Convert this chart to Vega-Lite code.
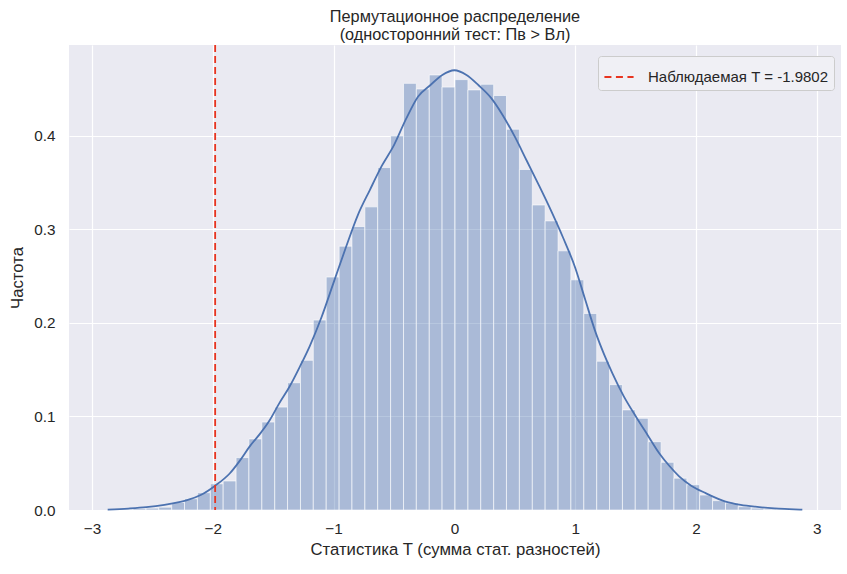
{
  "$schema": "https://vega.github.io/schema/vega-lite/v6.json",
  "width": 772,
  "height": 465,
  "autosize": {"type": "none"},
  "padding": {"left": 69, "top": 45, "right": 6, "bottom": 64},
  "background": "white",
  "config": {
    "font": "Liberation Sans",
    "view": {"fill": "#EAEAF2", "stroke": null},
    "axis": {
      "gridColor": "white", "gridWidth": 1.2, "gridOpacity": 1,
      "domain": false, "ticks": false,
      "labelFont": "Liberation Sans", "labelFontSize": 15.3, "labelColor": "#262626",
      "titleFont": "Liberation Sans", "titleFontSize": 16.7, "titleFontWeight": "normal", "titleColor": "#262626"
    },
    "legend": {
      "labelFont": "Liberation Sans", "labelFontSize": 15, "labelColor": "#262626", "labelLimit": 0
    }
  },
  "title": {
    "text": ["Пермутационное распределение", " (односторонний тест: Пв > Вл)"],
    "font": "Liberation Sans", "fontSize": 16.3, "fontWeight": "normal", "color": "#262626",
    "anchor": "middle", "lineHeight": 18, "offset": 1
  },
  "datasets": {
    "bars": [
      {"b0": -2.873, "b1": -2.767, "h": 0.0005},
      {"b0": -2.767, "b1": -2.660, "h": 0.0008},
      {"b0": -2.660, "b1": -2.553, "h": 0.0015},
      {"b0": -2.553, "b1": -2.447, "h": 0.002},
      {"b0": -2.447, "b1": -2.340, "h": 0.003},
      {"b0": -2.340, "b1": -2.234, "h": 0.008},
      {"b0": -2.234, "b1": -2.127, "h": 0.012},
      {"b0": -2.127, "b1": -2.020, "h": 0.0185},
      {"b0": -2.020, "b1": -1.914, "h": 0.028},
      {"b0": -1.914, "b1": -1.807, "h": 0.031},
      {"b0": -1.807, "b1": -1.701, "h": 0.056},
      {"b0": -1.701, "b1": -1.594, "h": 0.076},
      {"b0": -1.594, "b1": -1.487, "h": 0.094},
      {"b0": -1.487, "b1": -1.381, "h": 0.110},
      {"b0": -1.381, "b1": -1.274, "h": 0.136},
      {"b0": -1.274, "b1": -1.168, "h": 0.160},
      {"b0": -1.168, "b1": -1.061, "h": 0.203},
      {"b0": -1.061, "b1": -0.954, "h": 0.249},
      {"b0": -0.954, "b1": -0.848, "h": 0.282},
      {"b0": -0.848, "b1": -0.741, "h": 0.303},
      {"b0": -0.741, "b1": -0.635, "h": 0.324},
      {"b0": -0.635, "b1": -0.528, "h": 0.366},
      {"b0": -0.528, "b1": -0.421, "h": 0.400},
      {"b0": -0.421, "b1": -0.315, "h": 0.456},
      {"b0": -0.315, "b1": -0.208, "h": 0.450},
      {"b0": -0.208, "b1": -0.102, "h": 0.465},
      {"b0": -0.102, "b1": 0.005, "h": 0.452},
      {"b0": 0.005, "b1": 0.112, "h": 0.460},
      {"b0": 0.112, "b1": 0.218, "h": 0.449},
      {"b0": 0.218, "b1": 0.325, "h": 0.455},
      {"b0": 0.325, "b1": 0.431, "h": 0.443},
      {"b0": 0.431, "b1": 0.538, "h": 0.407},
      {"b0": 0.538, "b1": 0.645, "h": 0.364},
      {"b0": 0.645, "b1": 0.751, "h": 0.326},
      {"b0": 0.751, "b1": 0.858, "h": 0.309},
      {"b0": 0.858, "b1": 0.964, "h": 0.277},
      {"b0": 0.964, "b1": 1.071, "h": 0.246},
      {"b0": 1.071, "b1": 1.178, "h": 0.210},
      {"b0": 1.178, "b1": 1.284, "h": 0.159},
      {"b0": 1.284, "b1": 1.391, "h": 0.134},
      {"b0": 1.391, "b1": 1.497, "h": 0.107},
      {"b0": 1.497, "b1": 1.604, "h": 0.098},
      {"b0": 1.604, "b1": 1.711, "h": 0.073},
      {"b0": 1.711, "b1": 1.817, "h": 0.051},
      {"b0": 1.817, "b1": 1.924, "h": 0.034},
      {"b0": 1.924, "b1": 2.030, "h": 0.027},
      {"b0": 2.030, "b1": 2.137, "h": 0.016},
      {"b0": 2.137, "b1": 2.244, "h": 0.010},
      {"b0": 2.244, "b1": 2.350, "h": 0.0075},
      {"b0": 2.350, "b1": 2.457, "h": 0.0035},
      {"b0": 2.457, "b1": 2.563, "h": 0.002},
      {"b0": 2.563, "b1": 2.670, "h": 0.001},
      {"b0": 2.670, "b1": 2.776, "h": 0.0008},
      {"b0": 2.776, "b1": 2.883, "h": 0.0005}
    ],
    "kde": [
      {"x": -2.87, "y": 0.0003},
      {"x": -2.7, "y": 0.0015},
      {"x": -2.55, "y": 0.003},
      {"x": -2.4, "y": 0.0055},
      {"x": -2.3, "y": 0.0078},
      {"x": -2.2, "y": 0.011},
      {"x": -2.1, "y": 0.016},
      {"x": -1.98, "y": 0.026},
      {"x": -1.86, "y": 0.039},
      {"x": -1.78, "y": 0.052},
      {"x": -1.694, "y": 0.068},
      {"x": -1.6, "y": 0.083},
      {"x": -1.529, "y": 0.096},
      {"x": -1.45, "y": 0.114},
      {"x": -1.364, "y": 0.132},
      {"x": -1.28, "y": 0.153},
      {"x": -1.198, "y": 0.175},
      {"x": -1.1, "y": 0.206},
      {"x": -1.0, "y": 0.243},
      {"x": -0.9, "y": 0.280},
      {"x": -0.8, "y": 0.315},
      {"x": -0.7, "y": 0.342},
      {"x": -0.6, "y": 0.368},
      {"x": -0.5, "y": 0.390},
      {"x": -0.4, "y": 0.418},
      {"x": -0.3, "y": 0.442},
      {"x": -0.2, "y": 0.454},
      {"x": -0.1, "y": 0.465},
      {"x": 0.0, "y": 0.470},
      {"x": 0.1, "y": 0.465},
      {"x": 0.2, "y": 0.454},
      {"x": 0.3, "y": 0.441},
      {"x": 0.4, "y": 0.422},
      {"x": 0.5, "y": 0.399},
      {"x": 0.6, "y": 0.373},
      {"x": 0.7, "y": 0.347},
      {"x": 0.8, "y": 0.320},
      {"x": 0.9, "y": 0.291},
      {"x": 1.0, "y": 0.259},
      {"x": 1.08, "y": 0.226},
      {"x": 1.171, "y": 0.189},
      {"x": 1.24, "y": 0.166},
      {"x": 1.308, "y": 0.146},
      {"x": 1.4, "y": 0.122},
      {"x": 1.502, "y": 0.100},
      {"x": 1.6, "y": 0.080},
      {"x": 1.694, "y": 0.061},
      {"x": 1.78, "y": 0.047},
      {"x": 1.86, "y": 0.036},
      {"x": 1.96, "y": 0.026},
      {"x": 2.08, "y": 0.018},
      {"x": 2.245, "y": 0.009},
      {"x": 2.37, "y": 0.0055},
      {"x": 2.49, "y": 0.0035},
      {"x": 2.65, "y": 0.0018},
      {"x": 2.77, "y": 0.001},
      {"x": 2.88, "y": 0.0003}
    ],
    "obs": [
      {"t": -1.9802, "label": "Наблюдаемая T = -1.9802"}
    ]
  },
  "layer": [
    {
      "data": {"name": "bars"},
      "mark": {"type": "bar", "fill": "#4C72B0", "fillOpacity": 0.4, "stroke": "white", "strokeWidth": 1, "strokeOpacity": 0.6},
      "encoding": {
        "x": {
          "field": "b0", "type": "quantitative",
          "scale": {"domain": [-3.19, 3.2], "nice": false, "zero": false},
          "axis": {"values": [-3, -2, -1, 0, 1, 2, 3], "format": "d", "labelPadding": 11, "titlePadding": 5, "title": "Статистика T (сумма стат. разностей)"}
        },
        "x2": {"field": "b1"},
        "y": {
          "field": "h", "type": "quantitative",
          "scale": {"domain": [0, 0.497], "nice": false},
          "axis": {"values": [0, 0.1, 0.2, 0.3, 0.4], "format": ".1f", "labelPadding": 14, "titlePadding": 7, "title": "Частота"}
        },
        "y2": {"datum": 0}
      }
    },
    {
      "data": {"name": "kde"},
      "mark": {"type": "line", "color": "#4C72B0", "strokeWidth": 1.8, "interpolate": "monotone"},
      "encoding": {
        "x": {"field": "x", "type": "quantitative"},
        "y": {"field": "y", "type": "quantitative"}
      }
    },
    {
      "data": {"name": "obs"},
      "mark": {"type": "rule", "strokeDash": [7, 4], "strokeWidth": 1.8},
      "encoding": {
        "x": {"field": "t", "type": "quantitative"},
        "color": {
          "field": "label", "type": "nominal",
          "scale": {"range": ["#E8341F"]},
          "legend": {
            "title": null, "orient": "none", "legendX": 529, "legendY": 11,
            "symbolType": "stroke", "symbolDash": [7, 4.5], "symbolStrokeWidth": 2, "symbolSize": 850,
            "fillColor": "#F0F0F5", "strokeColor": "#CCCCCC", "cornerRadius": 3,
            "padding": 5, "labelOffset": 13
          }
        }
      }
    }
  ]
}
